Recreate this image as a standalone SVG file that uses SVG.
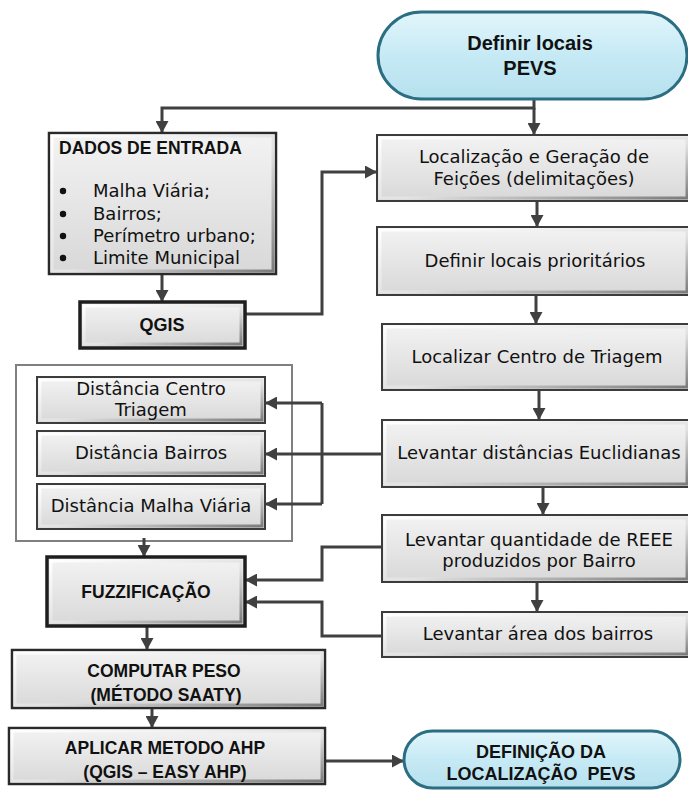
<svg xmlns="http://www.w3.org/2000/svg" width="688" height="790" viewBox="0 0 688 790">
<defs>
<linearGradient id="boxFill" x1="0" y1="0" x2="0" y2="1"><stop offset="0" stop-color="#f3f3f3"/><stop offset="1" stop-color="#d8d8d8"/></linearGradient>
<linearGradient id="bevel" x1="0" y1="0" x2="1" y2="1"><stop offset="0" stop-color="#ffffff"/><stop offset="0.55" stop-color="#e2e2e2"/><stop offset="1" stop-color="#7c7c7c"/></linearGradient>
<linearGradient id="termFill" x1="0" y1="0" x2="0" y2="1"><stop offset="0" stop-color="#e2f5fb"/><stop offset="0.5" stop-color="#c6eaf5"/><stop offset="1" stop-color="#b6e0ee"/></linearGradient>
<marker id="arr" markerUnits="userSpaceOnUse" markerWidth="13" markerHeight="13" refX="12" refY="6.5" orient="auto"><path d="M0,0 L12,6.5 L0,13 z" fill="#404040"/></marker>
<style>
.box{fill:url(#boxFill);stroke:#3c3c3c;stroke-width:2}
.bev{fill:none;stroke:url(#bevel);stroke-width:3}
.thick{fill:url(#boxFill);stroke:#1e1e1e;stroke-width:3.5}
.term{fill:url(#termFill);stroke:#2b6e82;stroke-width:3}
.cont{fill:#ffffff;stroke:#808080;stroke-width:2}
.r{font-family:"DejaVu Sans",Verdana,sans-serif;font-size:18px;fill:#111}
.b{font-family:"Liberation Sans",Arial,sans-serif;font-weight:bold;font-size:17.5px;fill:#111}
.c{text-anchor:middle}
.ln{fill:none;stroke:#404040;stroke-width:3}
</style>
</defs>

<g id="n-container">
<rect class="cont" x="16" y="365" width="276" height="176"/>
</g>

<g id="connectors">
<path class="ln" d="M534,99 V108 H162 V133" marker-end="url(#arr)"/>
<path class="ln" d="M534,108 V135" marker-end="url(#arr)"/>
<path class="ln" d="M162,274 V302" marker-end="url(#arr)"/>
<path class="ln" d="M245,314 H322 V172 H377" marker-end="url(#arr)"/>
<path class="ln" d="M537,201 V227" marker-end="url(#arr)"/>
<path class="ln" d="M536,295 V324" marker-end="url(#arr)"/>
<path class="ln" d="M539,390 V420" marker-end="url(#arr)"/>
<path class="ln" d="M543,487 V515" marker-end="url(#arr)"/>
<path class="ln" d="M537,582 V612" marker-end="url(#arr)"/>
<path class="ln" d="M382,454 H265" marker-end="url(#arr)"/>
<path class="ln" d="M322,403 V504"/>
<path class="ln" d="M322,403 H265" marker-end="url(#arr)"/>
<path class="ln" d="M322,504 H265" marker-end="url(#arr)"/>
<path class="ln" d="M144,538 V557" marker-end="url(#arr)"/>
<path class="ln" d="M382,547 H322 V580 H245" marker-end="url(#arr)"/>
<path class="ln" d="M382,636 H322 V602 H245" marker-end="url(#arr)"/>
<path class="ln" d="M147,626 V650" marker-end="url(#arr)"/>
<path class="ln" d="M152,708 V728" marker-end="url(#arr)"/>
<path class="ln" d="M325,761 H404" marker-end="url(#arr)"/>
</g>

<g id="n-definir-pevs">
<rect class="term" x="378" y="12" width="309" height="87" rx="43.5"/>
<text class="b c" x="530" y="50" style="font-size:20px">Definir locais</text>
<text class="b c" x="530" y="75" style="font-size:20px">PEVS</text>
</g>

<g id="n-dados">
<rect class="box" x="49" y="133" width="227" height="141" style="stroke:#2a2a2a;stroke-width:2.5"/>
<rect class="bev" x="52" y="136" width="221" height="135"/>
<text class="b" x="59" y="154">DADOS DE ENTRADA</text>
<circle cx="63" cy="191" r="3.2" fill="#111"/>
<circle cx="63" cy="214" r="3.2" fill="#111"/>
<circle cx="63" cy="236" r="3.2" fill="#111"/>
<circle cx="63" cy="258" r="3.2" fill="#111"/>
<text class="r" x="93" y="197">Malha Viária;</text>
<text class="r" x="93" y="220">Bairros;</text>
<text class="r" x="93" y="242">Perímetro urbano;</text>
<text class="r" x="93" y="264">Limite Municipal</text>
</g>

<g id="n-qgis">
<rect class="thick" x="80" y="302" width="165" height="46"/>
<rect class="bev" x="84" y="306" width="157" height="38"/>
<text class="b c" x="162" y="331" style="font-size:18px">QGIS</text>
</g>

<g id="n-localizacao">
<rect class="box" x="377" y="135" width="313" height="66"/>
<rect class="bev" x="380" y="138" width="307" height="60"/>
<text class="r c" x="534" y="163">Localização e Geração de</text>
<text class="r c" x="534" y="185">Feições (delimitações)</text>
</g>

<g id="n-prioritarios">
<rect class="box" x="377" y="227" width="313" height="68"/>
<rect class="bev" x="380" y="230" width="307" height="62"/>
<text class="r c" x="535" y="267">Definir locais prioritários</text>
</g>

<g id="n-centro-triagem">
<rect class="box" x="382" y="324" width="308" height="66"/>
<rect class="bev" x="385" y="327" width="302" height="60"/>
<text class="r c" x="537" y="363">Localizar Centro de Triagem</text>
</g>

<g id="n-euclidianas">
<rect class="box" x="382" y="420" width="308" height="67"/>
<rect class="bev" x="385" y="423" width="302" height="61"/>
<text class="r c" x="539" y="459">Levantar distâncias Euclidianas</text>
</g>

<g id="n-reee">
<rect class="box" x="382" y="515" width="308" height="67"/>
<rect class="bev" x="385" y="518" width="302" height="61"/>
<text class="r c" x="539" y="546">Levantar quantidade de REEE</text>
<text class="r c" x="539" y="567">produzidos por Bairro</text>
</g>

<g id="n-area">
<rect class="box" x="382" y="612" width="308" height="45"/>
<rect class="bev" x="385" y="615" width="302" height="39"/>
<text class="r c" x="538" y="640">Levantar área dos bairros</text>
</g>

<g id="n-dist-centro">
<rect class="box" x="37" y="377" width="228" height="46"/>
<rect class="bev" x="40" y="380" width="222" height="40"/>
<text class="r c" x="151" y="395">Distância Centro</text>
<text class="r c" x="151" y="416">Triagem</text>
</g>

<g id="n-dist-bairros">
<rect class="box" x="37" y="431" width="228" height="45"/>
<rect class="bev" x="40" y="434" width="222" height="39"/>
<text class="r c" x="151" y="459">Distância Bairros</text>
</g>

<g id="n-dist-malha">
<rect class="box" x="37" y="484" width="228" height="45"/>
<rect class="bev" x="40" y="487" width="222" height="39"/>
<text class="r c" x="151" y="512">Distância Malha Viária</text>
</g>

<g id="n-fuzz">
<rect class="thick" x="47" y="557" width="198" height="69"/>
<rect class="bev" x="51" y="561" width="190" height="61"/>
<text class="b c" x="146" y="598">FUZZIFICAÇÃO</text>
</g>

<g id="n-peso">
<rect class="box" x="12" y="650" width="313" height="58" style="stroke:#2a2a2a;stroke-width:2.5"/>
<rect class="bev" x="15" y="653" width="307" height="52"/>
<text class="b c" x="164" y="677">COMPUTAR PESO</text>
<text class="b c" x="166" y="701">(MÉTODO SAATY)</text>
</g>

<g id="n-ahp">
<rect class="box" x="9" y="728" width="316" height="56" style="stroke:#2a2a2a;stroke-width:2.5"/>
<rect class="bev" x="12" y="731" width="310" height="50"/>
<text class="b c" x="165" y="754">APLICAR METODO AHP</text>
<text class="b c" x="165" y="778">(QGIS – EASY AHP)</text>
</g>

<g id="n-definicao">
<rect class="term" x="404" y="731" width="276" height="57" rx="28.5"/>
<text class="b c" x="541" y="758" style="font-size:18px">DEFINIÇÃO DA</text>
<text class="b c" x="541" y="780" style="font-size:18px" xml:space="preserve">LOCALIZAÇÃO  PEVS</text>
</g>
</svg>
